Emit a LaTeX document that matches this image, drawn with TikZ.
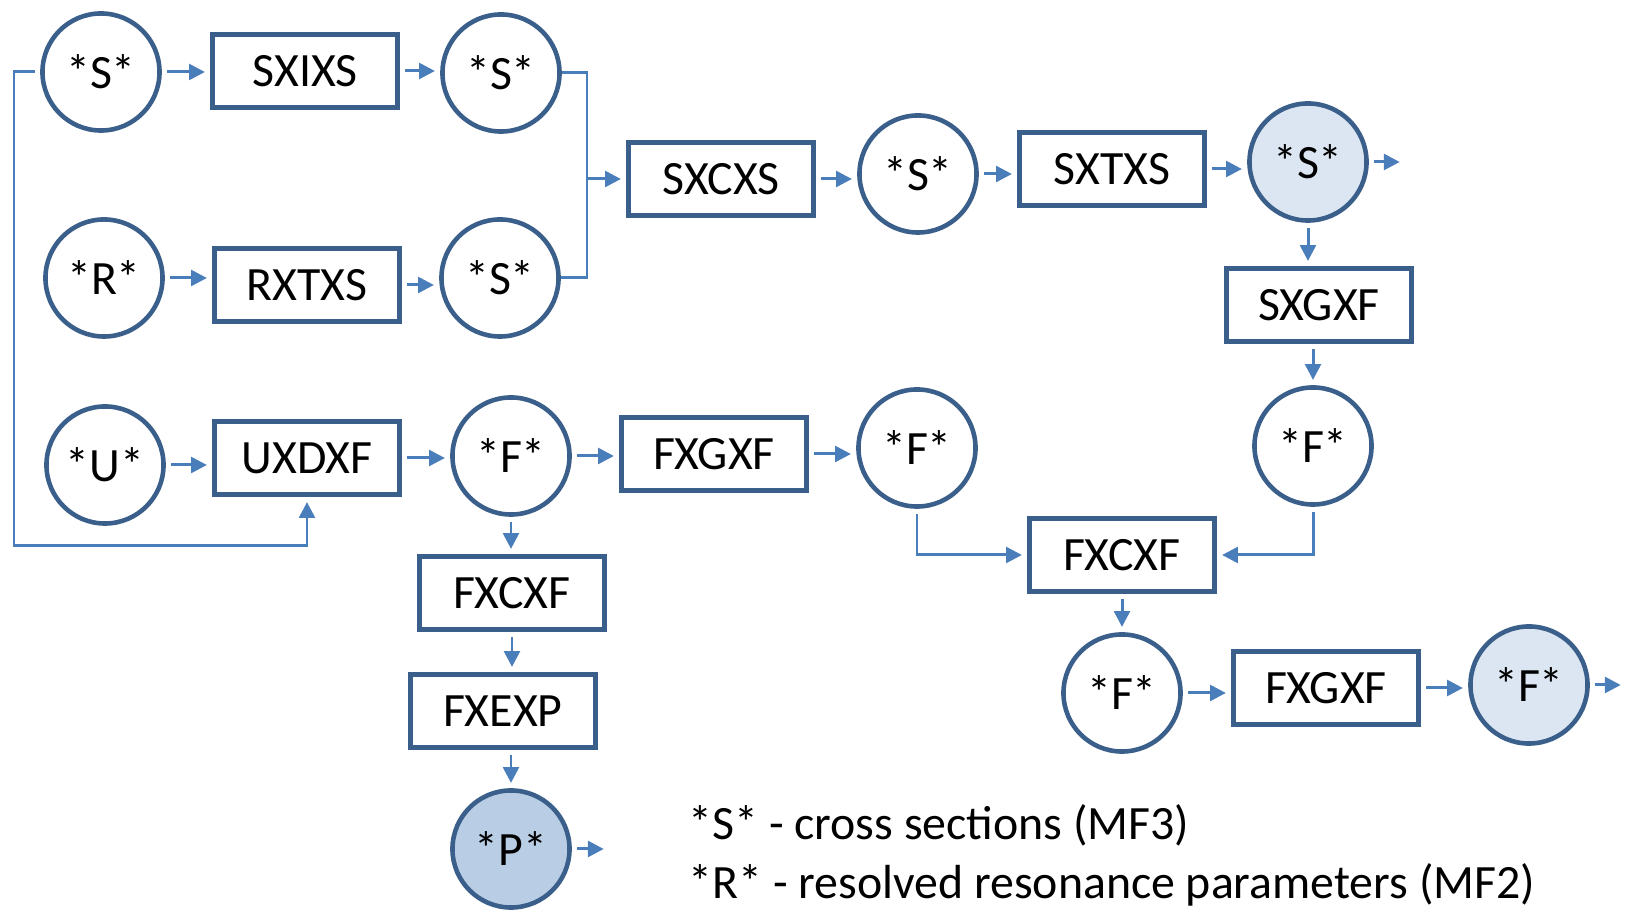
\documentclass[tikz,border=0pt]{standalone}
\usepackage{fontspec}
\setmainfont{Carlito}
\usetikzlibrary{arrows.meta}
\definecolor{edgeblue}{HTML}{3A5F8B}
\definecolor{linkblue}{HTML}{4A7EBB}
\definecolor{paleblue}{HTML}{DCE6F2}
\definecolor{midblue}{HTML}{B9CDE5}

\begin{document}
\begin{tikzpicture}[x=0.01cm, y=-0.01cm,
    font=\fontsize{13.6}{16}\selectfont,
    data/.style={circle, draw=edgeblue, line width=1.3pt, minimum size=1.17cm, inner sep=0pt},
    proc/.style={rectangle, draw=edgeblue, line width=1.3pt, minimum width=1.85cm, minimum height=0.73cm},
    link/.style={draw=linkblue, line width=0.85pt},
    arr/.style={link, -{Triangle[length=4.5pt,width=4.5pt]}, shorten >=1.5pt, shorten <=1.5pt}]
    \useasboundingbox (0,0) rectangle (1629,910);
    % data sets (name/x/y/letter/fill)
    \foreach \name/\x/\y/\lbl/\fc in {s1/101/72/S/white, s2/501/73/S/white, r/104/278/R/white,
        s3/500/278/S/white, s4/918/174/S/white, s5/1308/162/S/paleblue, f5/1313/446/F/white,
        u/105/465/U/white, f1/511/456/F/white, f2/917/448/F/white, f3/1122/693/F/white,
        f4/1529/685/F/paleblue, p/511/849/P/midblue}{
        \node[data, fill=\fc] (\name) at (\x,\y) {*\lbl*};
    }
    % processing modules
    \foreach \name/\x/\y/\lbl in {sxixs/305/71/SXIXS, rxtxs/307/285/RXTXS, sxcxs/721/179/SXCXS,
        sxtxs/1112/169/SXTXS, sxgxf/1319/305/SXGXF, uxdxf/307/458/UXDXF, fxgxf/714/454/FXGXF,
        fxcxfR/1122/555/FXCXF, fxgxfB/1326/688/FXGXF, fxcxf/512/593/FXCXF, fxexp/503/711/FXEXP}{
        \node[proc] (\name) at (\x,\y) {\lbl};
    }
    % left to right
    \foreach \a/\b in {s1/sxixs, sxixs/s2, r/rxtxs, rxtxs/s3, sxcxs/s4, s4/sxtxs, sxtxs/s5,
        u/uxdxf, uxdxf/f1, f1/fxgxf, fxgxf/f2, f3/fxgxfB, fxgxfB/f4}{
        \draw[arr] (\a.east) -- (\a.east -| \b.west);
    }
    % top to bottom
    \foreach \a/\b in {s5/sxgxf, f1/fxcxf, fxcxf/fxexp}{
        \draw[arr] (\a.south) -- (\a.south |- \b.north);
    }
    \foreach \a/\b in {sxgxf/f5, fxcxfR/f3, fxexp/p}{
        \draw[arr] (\b.north |- \a.south) -- (\b.north);
    }
    \coordinate (join) at (587,179);
    \draw[link] (s2.east) -| (join) |- (s3.east);
    \draw[arr, shorten <=0pt] (join) -- (sxcxs.west);
    \draw[arr] (f2.south) |- (fxcxfR.west);
    \draw[arr] (f5.south) |- (fxcxfR.east);
    \coordinate (loop) at (14,546);
    \draw[arr] (s1.west) -| (loop) -| (uxdxf.south);
    % results leaving the chain
    \coordinate (outS) at (1405,162);
    \coordinate (outF) at (1626,685);
    \coordinate (outP) at (609,849);
    \draw[arr] (s5.east) -- (outS);
    \draw[arr] (f4.east) -- (outF);
    \draw[arr] (p.east) -- (outP);
    % key
    \node[anchor=base west, inner sep=0pt] (keyS) at (688,840) {*S* - cross sections (MF3)};
    \node[anchor=base west, inner sep=0pt] (keyR) at (688,899) {*R* - resolved resonance parameters (MF2)};
\end{tikzpicture}
\end{document}
